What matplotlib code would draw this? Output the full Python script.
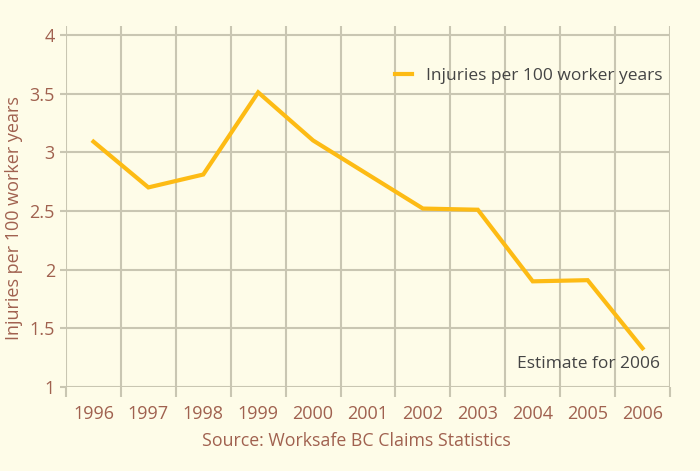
import matplotlib.pyplot as plt
import numpy as np

years = ["1996", "1997", "1998", "1999", "2000", "2001",
         "2002", "2003", "2004", "2005", "2006"]
injuries = [3.09, 2.70, 2.81, 3.51, 3.10, 2.81, 2.52, 2.51, 1.90, 1.91, 1.33]
y_ticks = [1, 1.5, 2, 2.5, 3, 3.5, 4]
y_tick_labels = ["1", "1.5", "2", "2.5", "3", "3.5", "4"]

bg = "#FEFCE8"
brown = "#A0614F"
grey_text = "#444444"
grid_col = "#C9C6B2"
line_col = "#FDBB14"

plt.rcParams["font.family"] = ["Open Sans", "DejaVu Sans"]

fig = plt.figure(figsize=(7, 4.71), dpi=100, facecolor=bg)
ax = fig.add_axes([66 / 700, 1 - 387 / 471, (670 - 66) / 700, (387 - 26) / 471])
ax.set_facecolor(bg)

x = np.arange(len(years))
ax.plot(x, injuries, color=line_col, lw=3, solid_joinstyle="miter",
        label="Injuries per 100 worker years", zorder=3)

ax.set_xlim(-0.5, len(years) - 0.5)
ax.set_ylim(1, 4.075)

ax.set_xticks(x)
ax.set_xticklabels(years)
ax.set_xticks(np.arange(len(years) + 1) - 0.5, minor=True)
ax.set_yticks(y_ticks)
ax.set_yticklabels(y_tick_labels)

ax.tick_params(axis="x", which="major", length=0, pad=13, labelsize=13, labelcolor=brown)
ax.tick_params(axis="x", which="minor", length=7, width=1.5, color=grid_col)
ax.tick_params(axis="y", length=4, width=1.5, color=grid_col, pad=4, labelsize=13, labelcolor=brown)

ax.grid(True, axis="x", which="minor", color=grid_col, lw=1.5)
ax.grid(True, axis="y", which="major", color=grid_col, lw=1.5)
for s in ax.spines.values():
    s.set_visible(False)

ax.set_ylabel("Injuries per 100 worker years", color=brown, fontsize=13)
ax.yaxis.set_label_coords(-0.071, 0.468)

leg = ax.legend(loc="center right", bbox_to_anchor=(1.005, 0.861), frameon=False,
                fontsize=12.5, handlelength=1.0, handletextpad=0.8, borderaxespad=0.2)
for t in leg.get_texts():
    t.set_color(grey_text)

ax.annotate("Estimate for 2006", xy=(10.32, 1.2), ha="right", va="center",
            color=grey_text, fontsize=12.5)

fig.text(356 / 700, 1 - 441 / 471, "Source: Worksafe BC Claims Statistics",
         ha="center", va="center", color=brown, fontsize=12.8)

fig.savefig("out.png", dpi=100, facecolor=bg)
